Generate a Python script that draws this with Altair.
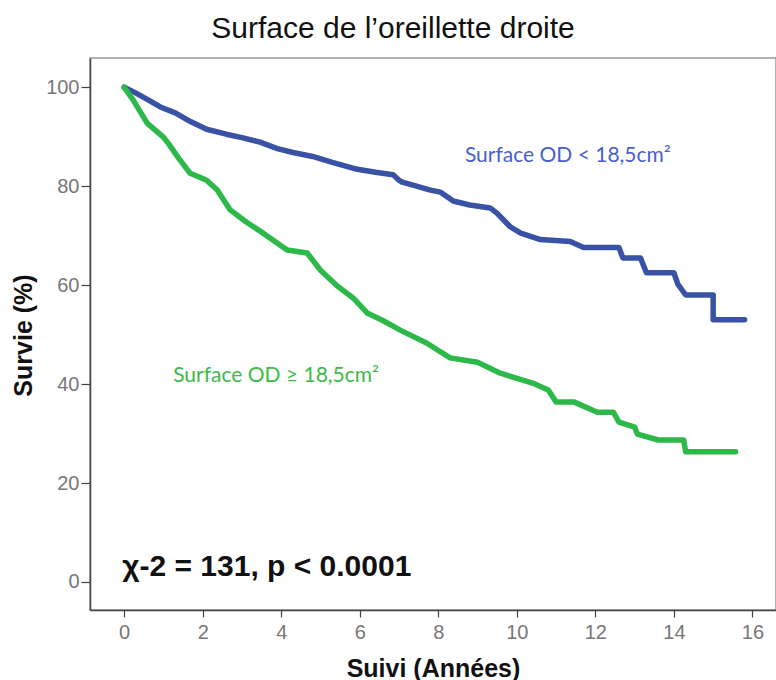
import altair as alt
import pandas as pd

# Kaplan-Meier curves (time in years, survival %)
blue_t = [0, 0.3, 0.6, 0.92, 1.3, 1.7, 2.1, 2.6, 3.0, 3.46, 3.9, 4.3, 4.8, 5.3, 5.94, 6.4, 6.85,
          7.0, 7.08, 7.4, 7.8, 8.05, 8.38, 8.8, 9.32, 9.5, 9.83, 10.1, 10.6, 11.36, 11.7, 12.6,
          12.7, 13.15, 13.3, 14.0, 14.1, 14.3, 15.0, 15.0, 15.8]
blue_s = [100, 98.8, 97.5, 96, 94.8, 93, 91.5, 90.5, 89.8, 88.9, 87.6, 86.8, 86, 84.8, 83.4, 82.8, 82.3,
          81.2, 80.8, 80.1, 79.2, 78.8, 77, 76.2, 75.6, 74.5, 71.8, 70.5, 69.2, 68.8, 67.6, 67.6,
          65.5, 65.5, 62.5, 62.5, 60.2, 58, 58, 53, 53]

green_t = [0, 0.23, 0.59, 1.0, 1.12, 1.4, 1.68, 2.1, 2.37, 2.7, 3.1, 3.54, 4.15, 4.66, 5.0, 5.4,
           5.83, 6.2, 6.6, 7.03, 7.7, 8.3, 9.0, 9.58, 10.4, 10.8, 11.0, 11.45, 12.05, 12.46, 12.6,
           13.0, 13.07, 13.6, 14.25, 14.3, 15.57]
green_s = [100, 97.4, 92.7, 89.9, 88.7, 85.5, 82.6, 81.2, 79.2, 75.2, 72.8, 70.5, 67.1, 66.5, 63, 60,
           57.4, 54.3, 52.8, 50.9, 48.3, 45.3, 44.4, 42.2, 40.2, 38.8, 36.4, 36.4, 34.3, 34.3, 32.3,
           31.3, 29.9, 28.7, 28.7, 26.3, 26.3]

groups = ["Surface OD < 18,5cm²", "Surface OD ≥ 18,5cm²"]
colors = ["#3a52a6", "#2db84a"]
label_colors = ["#4a5fcf", "#3cba4a"]
label_t = [11.3, 3.87]
label_s = [86.0, 41.6]

stat_text = ["χ-2 = 131, p < 0.0001"]
stat_t = [-0.05]
stat_s = [3.0]

x_ticks = [0, 2, 4, 6, 8, 10, 12, 14, 16]
y_ticks = [0, 20, 40, 60, 80, 100]

rows = []
for g, ts, ss in [(groups[0], blue_t, blue_s), (groups[1], green_t, green_s)]:
    for i, (t, s) in enumerate(zip(ts, ss)):
        rows.append({"group": g, "order": i, "t": t, "s": s})
df = pd.DataFrame(rows)
lab = pd.DataFrame({"group": groups, "t": label_t, "s": label_s})
stat = pd.DataFrame({"txt": stat_text, "t": stat_t, "s": stat_s})

xscale = alt.Scale(domain=[-0.87, 16.6], nice=False, zero=False)
yscale = alt.Scale(domain=[-5.66, 105.9], nice=False, zero=False)
cscale = alt.Scale(domain=groups, range=colors)
lscale = alt.Scale(domain=groups, range=label_colors)

xaxis = alt.Axis(values=x_ticks, title="Suivi (Années)", titleY=66, titleBaseline="alphabetic",
                 grid=False, tickSize=7, labelPadding=5)
yaxis = alt.Axis(values=y_ticks, title="Survie (%)", titleX=-67, titleY=277,
                 titleBaseline="middle", titleAlign="center", titleAngle=270, grid=False,
                 tickSize=9, labelPadding=2)

lines = alt.Chart(df).mark_line(strokeWidth=5.5, strokeJoin="round", strokeCap="round").encode(
    x=alt.X("t:Q", scale=xscale, axis=xaxis),
    y=alt.Y("s:Q", scale=yscale, axis=yaxis),
    color=alt.Color("group:N", scale=cscale, legend=None),
    order="order:Q",
    detail="group:N",
)

labels = alt.Chart(lab).mark_text(font="Lato", fontSize=21, align="center", baseline="middle").encode(
    x=alt.X("t:Q", scale=xscale),
    y=alt.Y("s:Q", scale=yscale),
    text="group:N",
    color=alt.Color("group:N", scale=lscale, legend=None),
)

stat_mark = alt.Chart(stat).mark_text(font="Liberation Sans", fontSize=30, fontWeight="bold",
                                      align="left", baseline="middle", color="#111111").encode(
    x=alt.X("t:Q", scale=xscale),
    y=alt.Y("s:Q", scale=yscale),
    text="txt:N",
)

chart = alt.layer(lines, labels, stat_mark).resolve_scale(color="independent").properties(
    width=686,
    height=552,
    background="white",
    autosize=alt.AutoSizeParams(type="none"),
    padding={"left": 90, "top": 58, "right": 0, "bottom": 70},
    title=alt.Title("Surface de l’oreillette droite", fontSize=30, font="Liberation Sans",
                    fontWeight="normal", color="#111111", anchor="middle", dx=-40, offset=21,
                    dy=31, baseline="alphabetic"),
).configure_view(
    stroke="#999999", strokeWidth=1.5
).configure_axis(
    grid=False,
    domainColor="#444444", domainWidth=1.5,
    tickColor="#444444", tickWidth=1.2,
    labelColor="#777777", labelFont="Liberation Sans", labelFontSize=20,
    titleFont="Liberation Sans", titleFontSize=25, titleFontWeight="bold", titleColor="#111111",
)

chart.save("out.html", embed_options={"renderer": "svg", "actions": False})
